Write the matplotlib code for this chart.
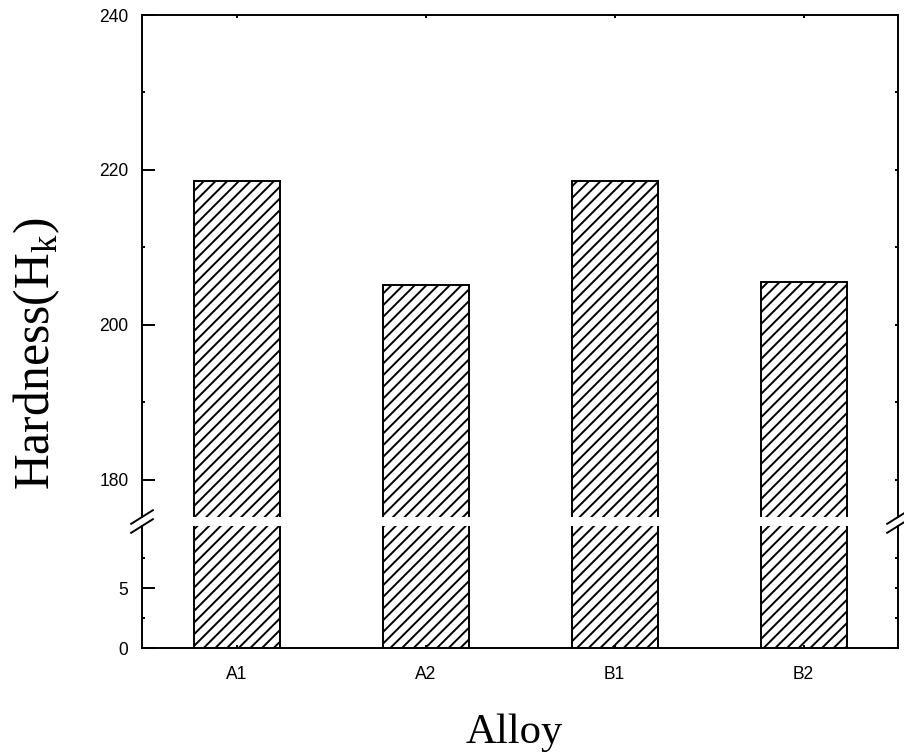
import numpy as np
import matplotlib
matplotlib.use('Agg')
import matplotlib.pyplot as plt
from matplotlib.lines import Line2D

alloys = ['A1', 'A2', 'B1', 'B2']
hardness = [218.6, 205.1, 218.6, 205.6]

upper_lim = (175.2, 240)
lower_lim = (0, 10.17)

plt.rcParams['hatch.linewidth'] = 1.0
plt.rcParams['font.family'] = ['Liberation Sans', 'DejaVu Sans']

dpi = 140
fig = plt.figure(figsize=(904 / dpi, 755 / dpi), dpi=dpi)
ax_top = fig.add_axes([0.1571, 0.3152, 0.8363, 0.6649])
ax_bot = fig.add_axes([0.1571, 0.1417, 0.8363, 0.1616])

x = np.arange(len(alloys))
for ax in (ax_top, ax_bot):
    ax.bar(x, hardness, width=0.455, color='white', edgecolor='black',
           hatch='////', linewidth=1.0)
    ax.set_xlim(-0.5, 3.5)
    for s in ax.spines.values():
        s.set_linewidth(1.0)
    ax.tick_params(axis='y', which='major', direction='in', length=6.5,
                   width=1.0, labelsize=9, pad=7, right=True)
    ax.tick_params(axis='y', which='minor', direction='in', length=1.5,
                   width=1.0, right=True)
    ax.set_xticks(x)

ax_top.set_ylim(*upper_lim)
ax_top.set_yticks([180, 200, 220, 240])
ax_top.set_yticks([190, 210, 230], minor=True)
ax_top.spines['bottom'].set_visible(False)
ax_top.tick_params(axis='x', bottom=False, labelbottom=False, top=True,
                   direction='in', length=1.5, width=1.0)

ax_bot.set_ylim(*lower_lim)
ax_bot.set_yticks([0, 5])
ax_bot.set_yticks([2.5, 7.5], minor=True)
ax_bot.spines['top'].set_visible(False)
ax_bot.set_xticklabels(alloys, fontsize=9)
ax_bot.tick_params(axis='x', direction='in', length=1.5, width=1.0, pad=9)

# shorter ticks on the right spine
for ax in (ax_top, ax_bot):
    for t in ax.yaxis.get_major_ticks():
        t.tick2line.set_markersize(1.5)

# break marks
for xf in (0.1571, 0.1571 + 0.8363):
    for yf in (0.3152, 0.3033):
        fig.add_artist(Line2D([xf - 0.012, xf + 0.012], [yf - 0.009, yf + 0.009],
                              color='black', linewidth=1.0))

fig.text(0.040, 0.532, r'Hardness(H$_\mathregular{k}$)', rotation=90,
         ha='center', va='center', fontsize=25.5, family='Liberation Serif')
fig.text(0.569, 0.030, 'Alloy', ha='center', va='center', fontsize=22,
         family='Liberation Serif')

fig.savefig('out.png', dpi=dpi)
